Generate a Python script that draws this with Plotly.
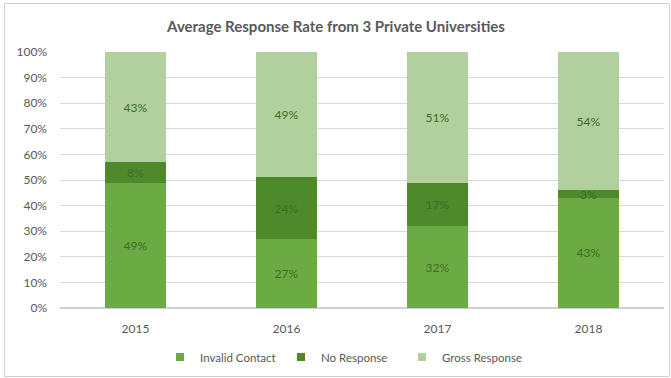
import plotly.graph_objects as go

years = ["2015", "2016", "2017", "2018"]
invalid_contact = [49, 27, 32, 43]
no_response = [8, 24, 17, 3]
gross_response = [43, 49, 51, 54]

series = [
    ("Invalid Contact", invalid_contact, "#6cab43"),
    ("No Response", no_response, "#4e8a2c"),
    ("Gross Response", gross_response, "#b2d09d"),
]

fig = go.Figure()
for name, vals, col in series:
    fig.add_trace(go.Bar(
        x=years, y=[v / 100 for v in vals], name=name,
        marker=dict(color=col, line=dict(width=0)),
        text=[f"{v}%" for v in vals], textposition="inside",
        insidetextanchor="middle", textangle=0,
        textfont=dict(color="#3f6b26", size=12, family="Lato"),
        hoverinfo="skip", showlegend=False,
    ))
for name, vals, col in series:
    fig.add_trace(go.Scatter(
        x=[None], y=[None], name=name, mode="markers",
        marker=dict(symbol="square", size=8, color=col),
        hoverinfo="skip", showlegend=True,
    ))

W, H = 671, 378
l, r, t, b = 60, 7, 52, 70
pw, ph = W - l - r, H - t - b

def px(x):
    return (x - l) / pw

def py(y):
    return (H - b - y) / ph

fig.add_shape(type="rect", xref="paper", yref="paper",
              x0=px(4.5), x1=px(669.5), y0=py(3.5), y1=py(376.5),
              line=dict(color="#d0d0d0", width=1), fillcolor="rgba(0,0,0,0)", layer="below")

fig.update_layout(
    width=W, height=H,
    margin=dict(l=l, r=r, t=t, b=b),
    barmode="stack", bargap=0.59,
    uniformtext=dict(minsize=12, mode="show"),
    paper_bgcolor="white", plot_bgcolor="white",
    font=dict(family="Lato", color="#595959", size=12),
    title=dict(text="<b>Average Response Rate from 3 Private Universities</b>",
               x=px(336), xanchor="center", xref="paper", y=1 - 27 / H, yanchor="middle",
               font=dict(size=15, color="#595959", family="Lato")),
    xaxis=dict(showgrid=False, showline=False, ticks="", ticklabelstandoff=12,
               tickfont=dict(size=12, color="#595959")),
    yaxis=dict(range=[0, 1], tickformat=".0%", dtick=0.1, showgrid=True,
               gridcolor="#d9d9d9", gridwidth=1, zeroline=True, zerolinecolor="#d0d0d0",
               ticks="", ticklabelstandoff=12, tickfont=dict(size=12, color="#595959")),
    legend=dict(orientation="h", x=px(160), xanchor="left", y=py(357), yanchor="middle",
                font=dict(size=11.5, color="#595959"), traceorder="normal",
                itemwidth=30, entrywidth=76, bgcolor="rgba(0,0,0,0)"),
    showlegend=True,
)

fig.write_html("out.html")
